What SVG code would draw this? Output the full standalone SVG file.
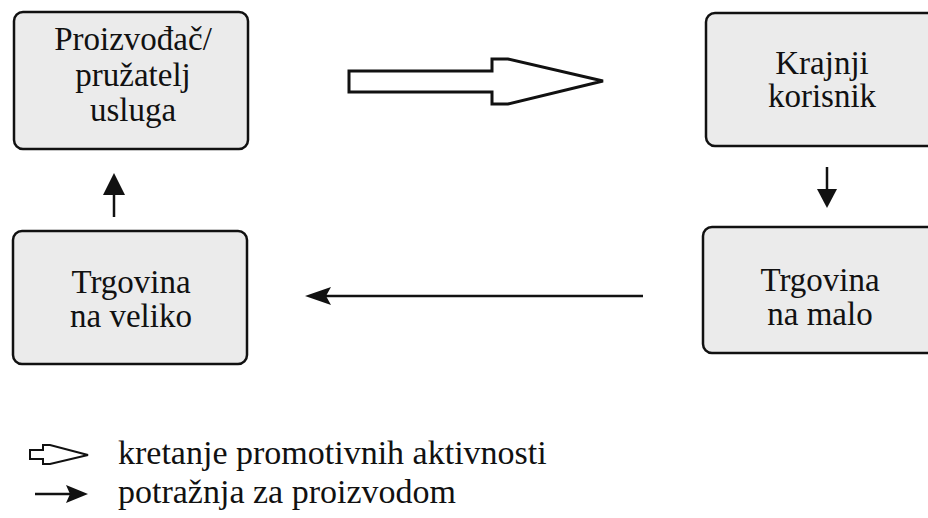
<svg xmlns="http://www.w3.org/2000/svg" width="928" height="518" viewBox="0 0 928 518">
<style>
.box{fill:#ebebeb;stroke:#111;stroke-width:2.5}
.t{font-size:33px;fill:#111;text-anchor:middle}
.lg{font-size:34px;fill:#111}
.ln{stroke:#111;stroke-width:2.5;fill:none}
.hd{fill:#111;stroke:none}
.hollow{fill:#fff;stroke:#111;stroke-width:3;stroke-linejoin:miter}
</style>
<rect width="928" height="518" fill="#fff"/>
<g font-family="'Liberation Serif', 'DejaVu Serif', serif">
<g id="proizvodac">
<rect class="box" x="14" y="12" width="234" height="137" rx="9"/>
<text class="t" x="133" y="50">Proizvođač/</text>
<text class="t" x="133" y="86">pružatelj</text>
<text class="t" x="133" y="121">usluga</text>
</g>
<g id="krajnji">
<rect class="box" x="706" y="13" width="240" height="133" rx="9"/>
<text class="t" x="822" y="74">Krajnji</text>
<text class="t" x="822" y="107">korisnik</text>
</g>
<g id="malo">
<rect class="box" x="703" y="227" width="240" height="126" rx="9"/>
<text class="t" x="820" y="291">Trgovina</text>
<text class="t" x="820" y="325">na malo</text>
</g>
<g id="veliko">
<rect class="box" x="13" y="231" width="234" height="133" rx="9"/>
<text class="t" x="131" y="293">Trgovina</text>
<text class="t" x="131" y="327">na veliko</text>
</g>
<g id="connectors">
<polygon class="hollow" points="349,71 492,71 492,59 508,59 603,81 508,104 492,104 492,92 349,92"/>
<line class="ln" x1="114" y1="217" x2="114" y2="192"/>
<polygon class="hd" points="114,173 103,195 125,195"/>
<line class="ln" x1="827" y1="167" x2="827" y2="192"/>
<polygon class="hd" points="827,208 817,189 837,189"/>
<line class="ln" x1="643" y1="296" x2="326" y2="296"/>
<polygon class="hd" points="305,296 331,287 326,296 331,305"/>
</g>
<g id="legend">
<polygon class="hollow" style="stroke-width:2" points="30,450 43,450 43,445 50,445 88,455 50,464 43,464 43,459 30,459"/>
<text class="lg" x="118" y="464">kretanje promotivnih aktivnosti</text>
<line class="ln" x1="35" y1="494" x2="72" y2="494"/>
<polygon class="hd" points="88,494 66,485 70,494 66,503"/>
<text class="lg" x="118" y="503">potražnja za proizvodom</text>
</g>
</g>
</svg>
